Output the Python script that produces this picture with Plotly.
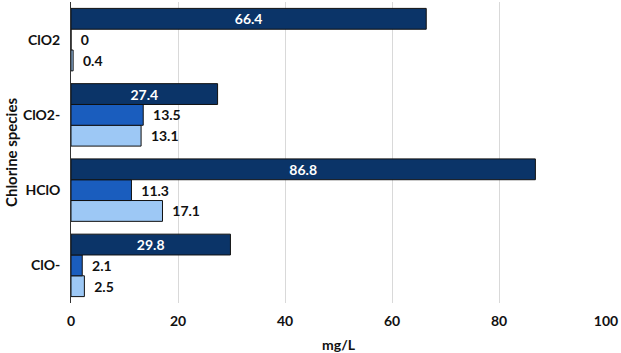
import plotly.graph_objects as go

categories = ["ClO-", "HClO", "ClO2-", "ClO2"]
series_dark = [29.8, 86.8, 27.4, 66.4]
series_medium = [2.1, 11.3, 13.5, 0]
series_light = [2.5, 17.1, 13.1, 0.4]
x_ticks = [0, 20, 40, 60, 80, 100]

FONT = "Lato"
dark = "#0B3468"
medium = "#1A5DBE"
light = "#9DC8F5"
PAD = "\u00a0\u00a0"

fig = go.Figure()
fig.add_trace(go.Bar(
    y=categories, x=series_light, orientation="h", name="light",
    marker=dict(color=light, line=dict(color="#111111", width=1)),
    text=[PAD + f"{v:g}" for v in series_light], textposition="outside",
    textfont=dict(family=FONT, size=14, color="#111111", weight="bold"),
    cliponaxis=False, constraintext="none",
))
fig.add_trace(go.Bar(
    y=categories, x=series_medium, orientation="h", name="medium",
    marker=dict(color=medium, line=dict(color="#111111", width=1)),
    text=[PAD + f"{v:g}" for v in series_medium], textposition="outside",
    textfont=dict(family=FONT, size=14, color="#111111", weight="bold"),
    cliponaxis=False, constraintext="none",
))
fig.add_trace(go.Bar(
    y=categories, x=series_dark, orientation="h", name="dark",
    marker=dict(color=dark, line=dict(color="#111111", width=1)),
    text=[f"{v:g}" for v in series_dark], textposition="inside",
    insidetextanchor="middle",
    textfont=dict(family=FONT, size=14, color="white", weight="bold"),
    cliponaxis=False, constraintext="none",
))

fig.update_layout(
    width=621, height=353,
    margin=dict(l=71, r=15, t=2, b=50),
    barmode="group", bargap=0.17, bargroupgap=0,
    showlegend=False,
    plot_bgcolor="white", paper_bgcolor="white",
    uniformtext=dict(mode=False),
)
fig.update_xaxes(
    range=[0, 100], tickvals=x_ticks, ticktext=[str(t) for t in x_ticks],
    showgrid=True, gridcolor="#D9D9D9", gridwidth=1, zeroline=False,
    tickfont=dict(family=FONT, size=14, color="#111111", weight="bold"),
    ticklabelstandoff=8,
    title=dict(text="mg/L", font=dict(family=FONT, size=14, color="#111111", weight="bold"), standoff=12),
    ticks="", ticklen=0,
)
fig.update_yaxes(
    categoryorder="array", categoryarray=categories,
    showline=True, linecolor="#333333", linewidth=1,
    showgrid=False, ticks="", ticklabelstandoff=7,
    tickfont=dict(family=FONT, size=14, color="#111111", weight="bold"),
    title=dict(text="Chlorine species", font=dict(family=FONT, size=15, color="#111111", weight="bold"), standoff=1),
)

fig.write_html("out.html")
